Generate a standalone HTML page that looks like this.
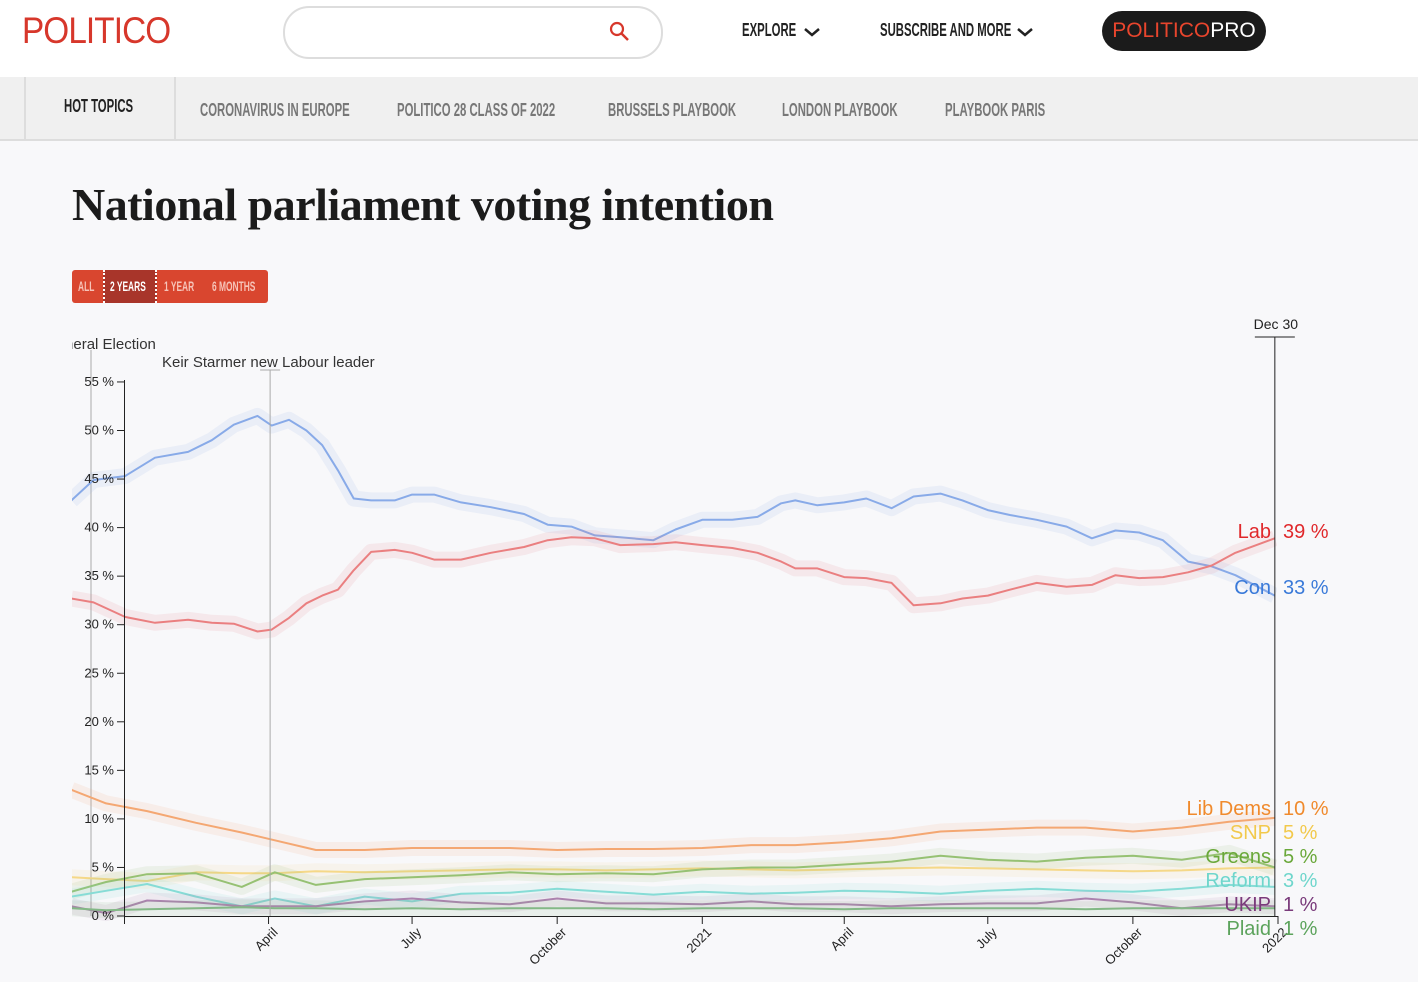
<!DOCTYPE html>
<html><head><meta charset="utf-8">
<style>
body{margin:0;width:1418px;height:982px;overflow:hidden;background:#f8f8fa;font-family:"Liberation Sans",sans-serif;position:relative}
.top{position:absolute;left:0;top:0;width:1418px;height:77px;background:#fff}
.logo{position:absolute;left:22px;top:10px;font-size:37px;color:#d7372b;transform:scaleX(.9);transform-origin:left;letter-spacing:-1px}
.search{position:absolute;left:283px;top:6px;width:376px;height:49px;border:2px solid #ddd;border-radius:26px;background:#fff}
.nav{position:absolute;left:0;top:77px;width:1418px;height:62px;background:#f0f0f0;border-bottom:2px solid #ddd}
.cond{position:absolute;font-weight:bold;font-size:18px;transform:scaleX(.63);transform-origin:left;white-space:nowrap}
.pro{position:absolute;left:1102px;top:11px;width:164px;height:40px;background:#1b1b1b;border-radius:20px;color:#e8452d;font-size:21px;line-height:40px;text-align:center}
h1{position:absolute;left:72px;top:178px;margin:0;font-family:"Liberation Serif",serif;font-size:46px;font-weight:bold;color:#1b1b1b;letter-spacing:-.5px}
.btns{position:absolute;left:72px;top:270px;width:196px;height:33px;background:#d9462f;border-radius:3px}
</style></head><body>
<div class="top"></div>
<div class="logo">POLITICO</div>
<div class="search">
<svg style="position:absolute;left:324px;top:13px" width="22" height="22"><circle cx="8" cy="8" r="6" fill="none" stroke="#d7372b" stroke-width="2.2"/><line x1="12.5" y1="12.5" x2="19" y2="19" stroke="#d7372b" stroke-width="2.5"/></svg></div>
<div class="cond" style="left:742px;top:20px;color:#222">EXPLORE</div>
<svg style="position:absolute;left:803px;top:26px" width="18" height="12"><polyline points="2,3 9,9 16,3" fill="none" stroke="#222" stroke-width="2.5"/></svg>
<div class="cond" style="left:880px;top:20px;color:#222">SUBSCRIBE AND MORE</div>
<svg style="position:absolute;left:1016px;top:26px" width="18" height="12"><polyline points="2,3 9,9 16,3" fill="none" stroke="#222" stroke-width="2.5"/></svg>
<div class="pro">POLITICO<span style="color:#fff">PRO</span></div>
<div class="nav">
<div style="position:absolute;left:24px;top:0;width:148px;height:62px;border-left:2px solid #ddd;border-right:2px solid #ddd"></div>
</div>
<div class="cond" style="left:64px;top:96px;color:#222">HOT TOPICS</div>
<div class="cond" style="left:200px;top:100px;color:#777">CORONAVIRUS IN EUROPE</div>
<div class="cond" style="left:397px;top:100px;color:#777">POLITICO 28 CLASS OF 2022</div>
<div class="cond" style="left:608px;top:100px;color:#777">BRUSSELS PLAYBOOK</div>
<div class="cond" style="left:782px;top:100px;color:#777">LONDON PLAYBOOK</div>
<div class="cond" style="left:945px;top:100px;color:#777">PLAYBOOK PARIS</div>
<h1>National parliament voting intention</h1>
<div class="btns">
<div style="position:absolute;left:31px;top:0;width:54px;height:33px;background:#a8352a;border-left:2px dotted #fff;border-right:2px dotted #fff;box-sizing:border-box"></div>
</div>
<div class="cond" style="left:78px;top:278px;font-size:14px;color:#f6c3b8;transform:scaleX(.6)">ALL</div>
<div class="cond" style="left:110px;top:278px;font-size:14px;color:#fff;transform:scaleX(.6)">2 YEARS</div>
<div class="cond" style="left:164px;top:278px;font-size:14px;color:#f6c3b8;transform:scaleX(.6)">1 YEAR</div>
<div class="cond" style="left:212px;top:278px;font-size:14px;color:#f6c3b8;transform:scaleX(.6)">6 MONTHS</div>

<svg id="chart" style="position:absolute;left:0;top:0" width="1418" height="982"></svg>
<script>
const dConLab=["2019-11-28","2019-12-12","2020-01-01","2020-01-20","2020-02-10","2020-02-25","2020-03-10","2020-03-25","2020-04-03","2020-04-14","2020-04-25","2020-05-05","2020-05-15","2020-05-25","2020-06-05","2020-06-20","2020-07-01","2020-07-15","2020-08-01","2020-08-20","2020-09-10","2020-09-25","2020-10-10","2020-10-25","2020-11-10","2020-12-01","2020-12-15","2021-01-01","2021-01-20","2021-02-05","2021-02-20","2021-03-01","2021-03-15","2021-04-01","2021-04-15","2021-05-01","2021-05-15","2021-06-01","2021-06-15","2021-07-01","2021-07-15","2021-08-01","2021-08-20","2021-09-05","2021-09-20","2021-10-05","2021-10-20","2021-11-05","2021-11-20","2021-12-05","2021-12-30"];
const con=[42.8,44.9,45.3,47.2,47.8,49,50.6,51.5,50.5,51.1,50,48.5,45.9,43,42.8,42.8,43.4,43.4,42.6,42.1,41.4,40.3,40.1,39.2,39,38.7,39.8,40.8,40.8,41.1,42.5,42.8,42.3,42.6,43,42,43.2,43.5,42.8,41.8,41.3,40.8,40.1,38.9,39.7,39.5,38.7,36.5,36,35.1,33];
const lab=[32.7,32.3,30.8,30.2,30.5,30.2,30.1,29.3,29.5,30.7,32.2,33,33.6,35.6,37.5,37.7,37.4,36.7,36.7,37.4,38,38.7,39,38.9,38.2,38.3,38.5,38.2,37.9,37.4,36.5,35.8,35.8,34.9,34.8,34.3,32,32.2,32.7,33,33.6,34.3,33.9,34.1,35.1,34.8,34.9,35.4,36.1,37.4,38.9];
const dMinor=["2019-11-28","2019-12-20","2020-01-15","2020-02-15","2020-03-15","2020-04-05","2020-05-01","2020-06-01","2020-07-01","2020-08-01","2020-09-01","2020-10-01","2020-11-01","2020-12-01","2021-01-01","2021-02-01","2021-03-01","2021-04-01","2021-05-01","2021-06-01","2021-07-01","2021-08-01","2021-09-01","2021-10-01","2021-11-01","2021-12-01","2021-12-30"];
const libdem=[13,11.6,10.8,9.6,8.6,7.8,6.8,6.8,7,7,7,6.8,6.9,6.9,7,7.3,7.3,7.6,8,8.7,8.9,9.1,9.1,8.7,9.1,9.7,10.1];
const snp=[4,3.8,3.6,4.5,4.4,4.4,4.6,4.5,4.6,4.7,4.8,4.8,4.7,4.8,4.9,4.8,4.7,4.8,4.9,5,4.9,4.8,4.7,4.6,4.7,4.9,5];
const greens=[2.5,3.5,4.3,4.4,3,4.5,3.2,3.8,4,4.2,4.5,4.3,4.4,4.3,4.8,5,5,5.3,5.6,6.2,5.8,5.6,6,6.2,5.8,6.5,5];
const reform=[2,2.6,3.3,2,1,1.8,1,2,1.5,2.3,2.4,2.8,2.5,2.2,2.5,2.3,2.4,2.6,2.5,2.3,2.6,2.8,2.6,2.5,2.8,3.2,3];
const ukip=[1,0.3,1.6,1.4,1,1,1,1.5,1.8,1.4,1.2,1.8,1.3,1.3,1.2,1.5,1.2,1.2,1,1.2,1.3,1.3,1.8,1.4,0.8,1.2,1];
const plaid=[0.8,0.6,0.7,0.8,0.9,0.8,0.8,0.7,0.8,0.7,0.8,0.8,0.8,0.7,0.8,0.8,0.8,0.7,0.8,0.8,0.8,0.8,0.7,0.8,0.8,0.8,0.8];
const yTicks=[0,5,10,15,20,25,30,35,40,45,50,55];
const xTicks=["2020-04-01","2020-07-01","2020-10-01","2021-01-01","2021-04-01","2021-07-01","2021-10-01","2022-01-01"];
const xTickLabels=["April","July","October","2021","April","July","October","2022"];
const legendNames=["Lab","Con","Lib Dems","SNP","Greens","Reform","UKIP","Plaid"];
const legendVals=[39,33,10,5,5,3,1,1];

const svg=document.getElementById('chart');const NS='http://www.w3.org/2000/svg';
const T0=Date.parse("2020-01-01"),T1=Date.parse("2022-01-01");
const X=d=>125+(Date.parse(d)-T0)/(T1-T0)*1153;
const Y=v=>916-v*9.71;
function mk(t,a,p){const e=document.createElementNS(NS,t);for(const k in a)e.setAttribute(k,a[k]);(p||svg).appendChild(e);return e;}
const defs=mk('defs',{});const cp=mk('clipPath',{id:'clip'},defs);mk('rect',{x:72,y:330,width:1205,height:600},cp);
const g=mk('g',{'clip-path':'url(#clip)'});
const ge=mk('line',{x1:91,y1:350,x2:91,y2:916,stroke:'#aaa','stroke-width':1},g);

const sx=X("2020-04-02");
const ks=mk('line',{x1:sx,y1:370,x2:sx,y2:916,stroke:'#aaa','stroke-width':1});

mk('line',{x1:sx-10,y1:370,x2:sx+10,y2:370,stroke:'#aaa'});
const t1=mk('text',{x:45,y:349,'font-size':15,fill:'#333'},g);t1.textContent='General Election';

const t2=mk('text',{x:162,y:367,'font-size':15,fill:'#333'});t2.textContent='Keir Starmer new Labour leader';

const ax=mk('g',{});
mk('line',{x1:124.5,y1:380,x2:124.5,y2:917,stroke:'#222'},ax);
yTicks.forEach(v=>{mk('line',{x1:117,y1:Y(v),x2:124,y2:Y(v),stroke:'#222'},ax);
const t=mk('text',{x:114,y:Y(v)+4,'font-size':13,fill:'#222','text-anchor':'end'},ax);t.textContent=v+' %';});
const xa=mk('g',{});
mk('line',{x1:124,y1:916.5,x2:1278,y2:916.5,stroke:'#222'},xa);
mk('line',{x1:124.5,y1:916,x2:124.5,y2:924,stroke:'#222'},xa);
xTicks.forEach((d,i)=>{const x=X(d);mk('line',{x1:x,y1:916,x2:x,y2:924,stroke:'#222'},xa);
const lx=x+10,ly2=933;
const t=mk('text',{x:lx,y:ly2,'font-size':13,fill:'#222','text-anchor':'end',transform:`rotate(-45 ${lx} ${ly2})`},xa);t.textContent=xTickLabels[i];});
const series=[[dConLab,con,'#88aae8','con'],[dConLab,lab,'#ea7f80','lab'],[dMinor,libdem,'#f4a772','libdem'],[dMinor,snp,'#f5d888','snp'],[dMinor,greens,'#96c173','greens'],[dMinor,reform,'#86dcd6','reform'],[dMinor,ukip,'#ab82ae','ukip'],[dMinor,plaid,'#83b886','plaid']];
series.forEach(([ds,vs,c,n])=>{const pts=ds.map((d,i)=>X(d).toFixed(1)+','+Y(vs[i]).toFixed(1)).join(' ');
const b=mk('polyline',{points:pts,fill:'none',stroke:c,'stroke-width':16,'stroke-opacity':0.12,'stroke-linejoin':'round'},g);

const l=mk('polyline',{points:pts,fill:'none',stroke:c,'stroke-width':2,'stroke-linejoin':'round'},g);
});
const dx=X("2021-12-30");
const dl=mk('line',{x1:dx,y1:337,x2:dx,y2:916,stroke:'#222'});
mk('line',{x1:dx-20,y1:337,x2:dx+20,y2:337,stroke:'#222'});
const dt=mk('text',{x:dx+1,y:329,'font-size':14,fill:'#222','text-anchor':'middle'});dt.textContent='Dec 30';

const lc=['#e0282b','#3a7ad9','#f08a2c','#f2c94c','#6aa83a','#6fd6cc','#7a3b7b','#5ca35c'];
const ly=[538,594,815,839,863,887,911,935];
legendNames.forEach((n,i)=>{const a=mk('text',{x:1271,y:ly[i],'font-size':20,fill:lc[i],'text-anchor':'end'});a.textContent=n;

const b=mk('text',{x:1283,y:ly[i],'font-size':20,fill:lc[i]});b.textContent=legendVals[i]+' %';
});
</script>
</body></html>
